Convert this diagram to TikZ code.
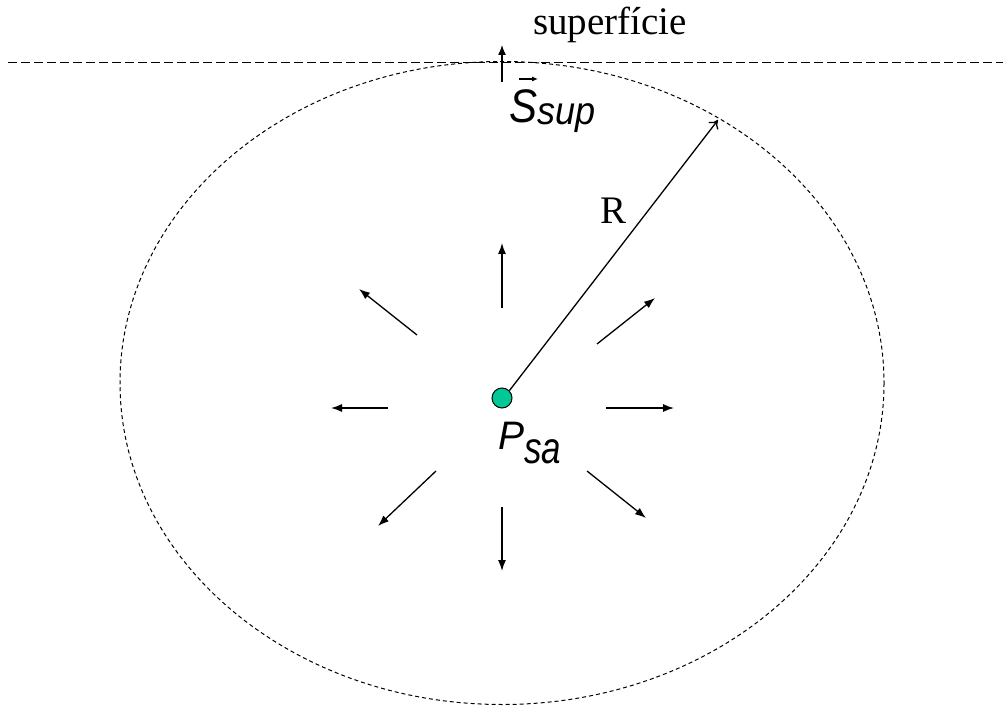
\documentclass[tikz,border=0pt]{standalone}
\usepackage{fontspec}
\usepackage{graphicx}
\setmainfont{Liberation Serif}
\newfontfamily\arialfont{Liberation Sans}
\usetikzlibrary{arrows.meta,calc}
\definecolor{dotgreen}{HTML}{00C896}
\tikzset{
  ray/.style={line width=1.3pt,-{Latex[length=11pt,width=8pt]}},
  bigdash/.style={line width=1pt,dash pattern=on 9pt off 4pt},
  smalldash/.style={line width=1pt,dash pattern=on 4pt off 3pt},
  lbl/.style={inner sep=0pt,anchor=base west},
}
\begin{document}
\begin{tikzpicture}[x=1pt,y=-1pt]
\useasboundingbox (0,0) rectangle (1003,708);
% surface line and ellipse
\coordinate (lineL) at (8,63);
\coordinate (lineR) at (1003,63);
\draw[bigdash] (lineL) -- (lineR);
\draw[smalldash] (502,383) ellipse [x radius=382, y radius=321.5];
\node[lbl] (sup) at (533,35) {\fontsize{39}{39}\selectfont superfície};
% normal vector at top
\coordinate (nA) at (502,82);
\coordinate (nB) at (502,45);
\draw[line width=1.3pt,-{Latex[length=10pt,width=8pt]}] (nA) -- (nB);
\node[lbl] (S) at (509,123) {\arialfont\itshape\scalebox{1}[1.12]{\fontsize{42}{42}\selectfont S}\raisebox{-2pt}{\scalebox{1}[1.08]{\fontsize{36}{36}\selectfont sup}}};
\coordinate (vA) at (519,79);
\coordinate (vB) at (538,79);
\draw[line width=1.1pt,-{Latex[length=6pt,width=5pt]}] (vA) -- (vB);
% source point
\node[circle,draw=black,line width=1pt,fill=dotgreen,minimum size=20pt,inner sep=0pt] (c) at (502,398) {};
\node[lbl] (P) at (498,449) {\arialfont\itshape\scalebox{1}[1.02]{\fontsize{39}{39}\selectfont P}\raisebox{-14pt}{\scalebox{1}[1.27]{\fontsize{35}{35}\selectfont sa}}};
% radius
\coordinate (rEnd) at (718,120);
\draw[line width=1.3pt,-{To[length=8pt,width=12pt]}] (c.north east) -- (rEnd);
\node[lbl] (R) at (600,224) {\fontsize{39}{39}\selectfont R};
% radial arrows
\coordinate (u1) at (502,308); \coordinate (u2) at (502,243);
\coordinate (d1) at (502,507); \coordinate (d2) at (502,571);
\coordinate (l1) at (388,408); \coordinate (l2) at (331,408);
\coordinate (r1) at (606,408); \coordinate (r2) at (674,408);
\coordinate (ul1) at (417,335); \coordinate (ul2) at (359,289);
\coordinate (ur1) at (597,344); \coordinate (ur2) at (655,298);
\coordinate (dl1) at (436,471); \coordinate (dl2) at (378,526);
\coordinate (dr1) at (587,471); \coordinate (dr2) at (646,518);
\foreach \a in {u,d,l,r,ul,ur,dl,dr}{\draw[ray] (\a1) -- (\a2);}
\end{tikzpicture}
\end{document}
